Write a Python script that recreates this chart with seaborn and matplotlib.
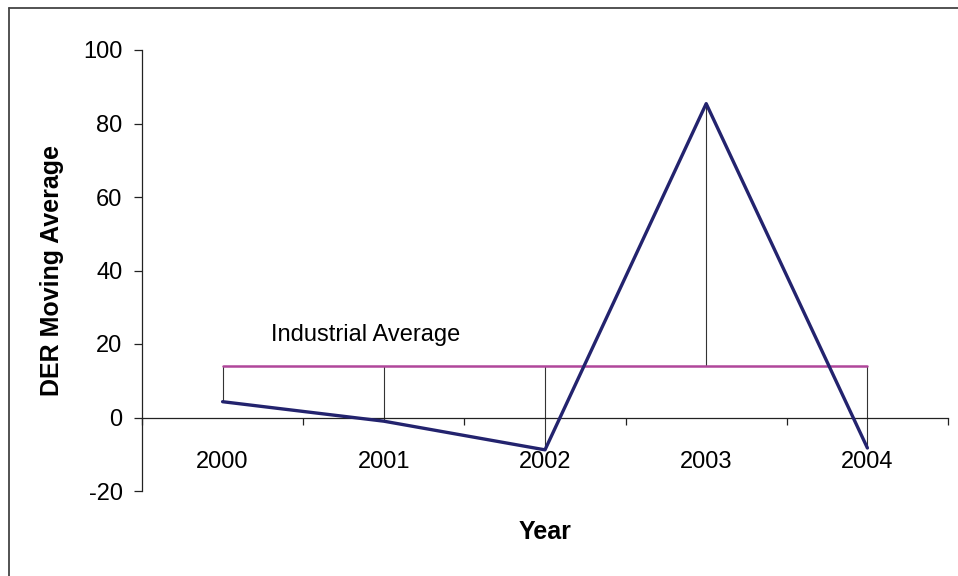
import matplotlib
matplotlib.use('Agg')
import matplotlib.pyplot as plt
import matplotlib.lines as mlines
import pandas as pd
import seaborn as sns

years = ['2000', '2001', '2002', '2003', '2004']
der_moving_avg = [4.3, -1.0, -8.8, 85.4, -8.3]
industrial_avg = [14.0, 14.0, 14.0, 14.0, 14.0]

sns.set_style('white')
plt.rcParams['font.family'] = ['Liberation Sans', 'DejaVu Sans']
plt.rcParams['axes.unicode_minus'] = False
plt.rcParams['text.color'] = 'black'
plt.rcParams['xtick.color'] = '#222222'
plt.rcParams['ytick.color'] = '#222222'
plt.rcParams['xtick.labelcolor'] = 'black'
plt.rcParams['ytick.labelcolor'] = 'black'

df = pd.DataFrame({'pos': range(len(years)), 'year': years,
                   'der': der_moving_avg, 'ind': industrial_avg})

fig = plt.figure(figsize=(9.58, 5.76), dpi=100)
ax = fig.add_axes([142 / 958, 1 - 491 / 576, (948 - 142) / 958, (491 - 50) / 576])

# drop lines between the two series
ax.vlines(df['pos'], df['der'], df['ind'], color='#333333', linewidth=0.8, zorder=1)

sns.lineplot(data=df, x='pos', y='ind', ax=ax, color='#B0479A', linewidth=1.8, zorder=2)
sns.lineplot(data=df, x='pos', y='der', ax=ax, color='#23236E', linewidth=2.4, zorder=3)

ax.set_xlim(-0.5, len(years) - 0.5)
ax.set_ylim(-20, 100)
ax.set_yticks(range(-20, 101, 20))
ax.tick_params(axis='y', left=True, labelsize=17, length=6, width=0.9, pad=8, direction='out')

ax.set_xticks([i - 0.5 for i in range(len(years) + 1)])
ax.set_xticklabels([])
ax.set_xticks(range(len(years)), minor=True)
ax.set_xticklabels(years, minor=True)
ax.tick_params(axis='x', which='major', bottom=True, length=5, width=0.9, direction='out')
ax.tick_params(axis='x', which='minor', bottom=True, length=0, labelsize=17, pad=24)

ax.spines['top'].set_visible(False)
ax.spines['right'].set_visible(False)
ax.spines['bottom'].set_position(('data', 0))
for s in ['left', 'bottom']:
    ax.spines[s].set_color('#222222')
    ax.spines[s].set_linewidth(0.9)

ax.set_xlabel('')
ax.set_ylabel('')
fig.text(52 / 958, 1 - 270 / 576, 'DER Moving Average', rotation=90, ha='center',
         va='center', fontsize=18, fontweight='bold')
fig.text(545 / 958, 1 - 532 / 576, 'Year', ha='center', va='center',
         fontsize=18, fontweight='bold')
ax.text(0.3, industrial_avg[0] + 6.7, 'Industrial Average', fontsize=17,
        ha='left', va='baseline')

# outer chart frame (left and top edges visible)
fig.add_artist(mlines.Line2D([8.5 / 958, 8.5 / 958], [0, 1 - 8 / 576],
                             transform=fig.transFigure, color='#444444', linewidth=1.3))
fig.add_artist(mlines.Line2D([8.5 / 958, 1], [1 - 8 / 576, 1 - 8 / 576],
                             transform=fig.transFigure, color='#444444', linewidth=1.3))

fig.savefig('out.png', dpi=100)
